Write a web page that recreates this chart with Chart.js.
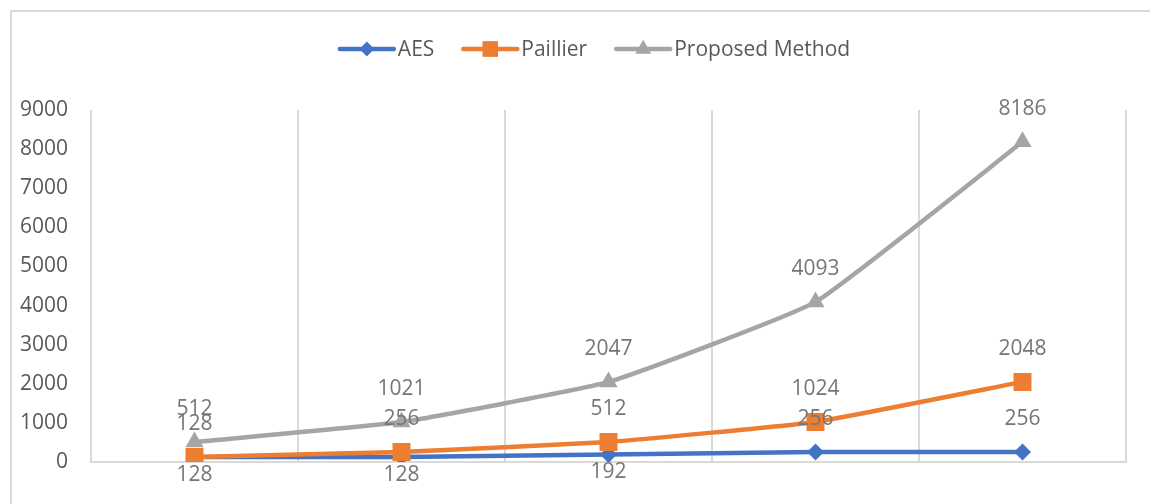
<!DOCTYPE html>
<html>
<head>
<meta charset="utf-8">
<script src="https://cdn.jsdelivr.net/npm/chart.js@4.4.1/dist/chart.umd.min.js"></script>
<style>
  html, body { margin: 0; padding: 0; background: #ffffff; }
  #wrap { width: 1150px; height: 504px; position: relative; }
</style>
</head>
<body>
<div id="wrap"><canvas id="chart" width="1150" height="504"></canvas></div>
<script>
// Five runs along the category axis (no axis text is shown)
const categories = ['', '', '', '', ''];

// Series values
const aesValues = [128, 128, 192, 256, 256];
const paillierValues = [128, 256, 512, 1024, 2048];
const proposedValues = [512, 1021, 2047, 4093, 8186];

// Value axis ticks
const yTicks = [0, 1000, 2000, 3000, 4000, 5000, 6000, 7000, 8000, 9000];

// Where each value label sits relative to its point
const aesLabelSide = ['below', 'below', 'below', 'above', 'above'];
const paillierLabelSide = ['above', 'above', 'above', 'above', 'above'];
const proposedLabelSide = ['above', 'above', 'above', 'above', 'above'];

const FONT = '"Open Sans", "Liberation Sans", sans-serif';
const GRID = '#d9d9d9';

// Outer frame of the chart
const framePlugin = {
  id: 'frame',
  beforeDraw(chart) {
    const ctx = chart.ctx;
    ctx.save();
    ctx.fillStyle = '#ffffff';
    ctx.fillRect(0, 0, chart.width, chart.height);
    ctx.strokeStyle = GRID;
    ctx.lineWidth = 2;
    ctx.strokeRect(11, 11, 1168, 540);
    ctx.restore();
  }
};

// Line-and-marker legend across the top
const legendPlugin = {
  id: 'topLegend',
  afterDraw(chart) {
    const ctx = chart.ctx;
    const lineLen = 54, textGap = 4, itemGap = 29, cy = 49, centerX = 595;
    ctx.save();
    ctx.font = '21px ' + FONT;
    ctx.textBaseline = 'middle';
    const items = chart.data.datasets.map(ds => ({ ds, w: ctx.measureText(ds.label).width }));
    const total = items.reduce((s, it) => s + lineLen + textGap + it.w, 0) + itemGap * (items.length - 1);
    let x = centerX - total / 2;
    items.forEach(({ ds, w }) => {
      ctx.strokeStyle = ds.borderColor;
      ctx.lineWidth = 4.5;
      ctx.lineCap = 'round';
      ctx.beginPath();
      ctx.moveTo(x, cy);
      ctx.lineTo(x + lineLen, cy);
      ctx.stroke();
      ctx.fillStyle = ds.pointBackgroundColor;
      ctx.beginPath();
      Chart.helpers.drawPoint(ctx, {
        pointStyle: ds.pointStyle,
        radius: ds.pointRadius * 0.85,
        borderWidth: 0
      }, x + lineLen / 2, cy);
      ctx.fill();
      ctx.fillStyle = '#595959';
      ctx.textAlign = 'left';
      ctx.fillText(ds.label, x + lineLen + textGap, cy + 1);
      x += lineLen + textGap + w + itemGap;
    });
    ctx.restore();
  }
};

// Value labels next to each point
const valueLabelPlugin = {
  id: 'valueLabels',
  afterDatasetsDraw(chart) {
    const ctx = chart.ctx;
    ctx.save();
    ctx.font = '21px ' + FONT;
    ctx.fillStyle = '#767676';
    ctx.textAlign = 'center';
    ctx.textBaseline = 'middle';
    chart.data.datasets.forEach((ds, i) => {
      const meta = chart.getDatasetMeta(i);
      meta.data.forEach((pt, j) => {
        const side = ds.labelSide[j];
        const dy = side === 'below' ? 18 : -33;
        ctx.fillText(String(ds.data[j]), pt.x, pt.y + dy);
      });
    });
    ctx.restore();
  }
};

function series(label, values, color, style, radius, sides, order) {
  return {
    label,
    data: values,
    labelSide: sides,
    order,
    borderColor: color,
    backgroundColor: color,
    pointBackgroundColor: color,
    pointBorderColor: color,
    pointBorderWidth: 0,
    pointStyle: style,
    pointRadius: radius,
    pointHoverRadius: radius,
    borderWidth: 4.5,
    tension: 0.12,
    fill: false
  };
}

new Chart(document.getElementById('chart'), {
  type: 'line',
  data: {
    labels: categories,
    datasets: [
      series('AES', aesValues, '#4472c4', 'rectRot', 8.5, aesLabelSide, 3),
      series('Paillier', paillierValues, '#ed7d31', 'rect', 12.7, paillierLabelSide, 2),
      series('Proposed Method', proposedValues, '#a5a5a5', 'triangle', 10.5, proposedLabelSide, 1)
    ]
  },
  options: {
    responsive: false,
    animation: false,
    devicePixelRatio: 1,
    layout: { padding: { left: 0, right: 24, top: 110, bottom: 42 } },
    plugins: {
      legend: { display: false },
      tooltip: { enabled: false },
      title: { display: false }
    },
    scales: {
      x: {
        type: 'category',
        offset: true,
        grid: { display: true, offset: true, color: GRID, lineWidth: 2, drawTicks: false },
        border: { display: true, color: GRID, width: 2 },
        ticks: { display: false },
        afterFit(scale) { scale.height = 0; }
      },
      y: {
        min: 0,
        max: 9000,
        afterBuildTicks(scale) { scale.ticks = yTicks.map(v => ({ value: v })); },
        grid: { display: false, drawTicks: false },
        border: { display: false },
        ticks: {
          padding: 23,
          color: '#595959',
          font: { family: FONT, size: 21 },
          callback: (v) => String(v)
        },
        afterFit(scale) { scale.width = 91; }
      }
    }
  },
  plugins: [framePlugin, legendPlugin, valueLabelPlugin]
});
</script>
</body>
</html>
